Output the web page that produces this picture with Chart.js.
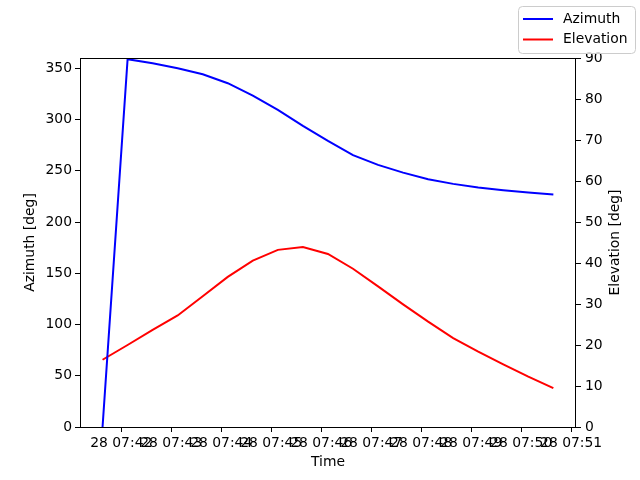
<html>
  <head>
    <script src="https://cdn.jsdelivr.net/npm/chart.js@4/dist/chart.umd.min.js"></script>
    <style>
      body,
      html {
        margin: 0;
        padding: 0;
        background: #fff;
      }
      #passChart {
        display: block;
      }
    </style>
  </head>
  <body>
    <canvas id="passChart" width="640" height="480"></canvas>

    <script>
      // time of each sample, minutes after 07:00 on the 28th
      const times = [
        41.626, 42.127, 42.628, 43.129, 43.63, 44.131, 44.632, 45.133, 45.634,
        46.135, 46.636, 47.137, 47.638, 48.139, 48.64, 49.141, 49.642, 50.143,
        50.644,
      ];
      const azimuth = [
        0, 358.8, 354.9, 350.0, 344.1, 335.4, 323.3, 309.3, 293.7, 279.1,
        265.3, 255.7, 248.2, 241.8, 237.2, 233.6, 231.0, 228.7, 226.8,
      ];
      const elevation = [
        16.4, 20.0, 23.7, 27.2, 31.9, 36.6, 40.6, 43.2, 43.9, 42.2, 38.6, 34.3,
        29.9, 25.7, 21.7, 18.4, 15.3, 12.3, 9.5,
      ];
      const timeTicks = [42, 43, 44, 45, 46, 47, 48, 49, 50, 51];
      const timeLabels = [
        "28 07:42", "28 07:43", "28 07:44", "28 07:45", "28 07:46",
        "28 07:47", "28 07:48", "28 07:49", "28 07:50", "28 07:51",
      ];
      const azTicks = [0, 50, 100, 150, 200, 250, 300, 350];
      const elTicks = [0, 10, 20, 30, 40, 50, 60, 70, 80, 90];

      Chart.defaults.font.family = "'DejaVu Sans', sans-serif";
      Chart.defaults.font.size = 13.9;
      Chart.defaults.color = "#000";

      const toPoints = (ys) => ys.map((y, i) => ({ x: times[i], y: y }));
      const setTicks = (vals) => (scale) => {
        scale.ticks = vals.map((v) => ({ value: v }));
      };

      const tickGrid = {
        drawOnChartArea: false,
        drawTicks: true,
        tickLength: 5,
        tickColor: "#000",
        tickWidth: 1,
      };

      // frame around the plot area, right axis title (reads upward, like
      // matplotlib) and the boxed legend
      const framePlugin = {
        id: "frame",
        afterDraw(chart) {
          const c = chart.ctx;
          const a = chart.chartArea;
          c.save();
          c.strokeStyle = "#000";
          c.lineWidth = 1;
          c.strokeRect(a.left + 0.5, a.top + 0.5, a.right - a.left - 1, a.bottom - a.top);

          c.font = "13.9px 'DejaVu Sans', sans-serif";
          c.fillStyle = "#000";
          c.save();
          c.translate(615, (a.top + a.bottom) / 2);
          c.rotate(-Math.PI / 2);
          c.textAlign = "center";
          c.textBaseline = "middle";
          c.fillText("Elevation [deg]", 0, 0);
          c.restore();

          // legend box
          const bx = 518, by = 6, bw = 117, bh = 47, r = 4;
          c.beginPath();
          c.roundRect(bx + 0.5, by + 0.5, bw, bh, r);
          c.fillStyle = "rgba(255,255,255,0.8)";
          c.fill();
          c.strokeStyle = "#cccccc";
          c.stroke();

          c.textBaseline = "middle";
          c.textAlign = "left";
          chart.data.datasets.forEach((ds, i) => {
            const y = 19 + i * 20.5;
            c.strokeStyle = ds.borderColor;
            c.lineWidth = 2;
            c.beginPath();
            c.moveTo(523, y);
            c.lineTo(553, y);
            c.stroke();
            c.fillStyle = "#000";
            c.fillText(ds.label, 563, y);
          });
          c.restore();
        },
      };

      const ctx = document.getElementById("passChart").getContext("2d");
      var passChart = new Chart(ctx, {
        type: "line",
        data: {
          datasets: [
            {
              label: "Azimuth",
              data: toPoints(azimuth),
              borderColor: "#0000ff",
              borderWidth: 2,
              pointRadius: 0,
              tension: 0,
              yAxisID: "y",
            },
            {
              label: "Elevation",
              data: toPoints(elevation),
              borderColor: "#ff0000",
              borderWidth: 2,
              pointRadius: 0,
              tension: 0,
              yAxisID: "y1",
            },
          ],
        },
        options: {
          responsive: false,
          animation: false,
          devicePixelRatio: 1,
          layout: { padding: { top: 58, left: 0, right: 0, bottom: 0 } },
          plugins: {
            legend: { display: false },
            tooltip: { enabled: false },
          },
          scales: {
            x: {
              type: "linear",
              min: 41.175,
              max: 51.097,
              grid: tickGrid,
              border: { display: false },
              afterBuildTicks: setTicks(timeTicks),
              afterFit: (s) => { s.height = 53; },
              ticks: {
                autoSkip: false,
                maxRotation: 0,
                minRotation: 0,
                padding: 3,
                callback: (v) => timeLabels[timeTicks.indexOf(v)],
              },
              title: {
                display: true,
                text: "Time",
                padding: { top: 0, bottom: 9.6 },
              },
            },
            y: {
              position: "left",
              min: 0,
              max: 360,
              grid: tickGrid,
              border: { display: false },
              afterBuildTicks: setTicks(azTicks),
              afterFit: (s) => { s.width = 80; },
              ticks: { padding: 3 },
              title: {
                display: true,
                text: "Azimuth [deg]",
                padding: { top: 22, bottom: 0 },
              },
            },
            y1: {
              position: "right",
              min: 0,
              max: 90,
              grid: tickGrid,
              border: { display: false },
              afterBuildTicks: setTicks(elTicks),
              afterFit: (s) => { s.width = 64; },
              ticks: { padding: 4 },
              title: { display: false },
            },
          },
        },
        plugins: [framePlugin],
      });
    </script>
  </body>
</html>
